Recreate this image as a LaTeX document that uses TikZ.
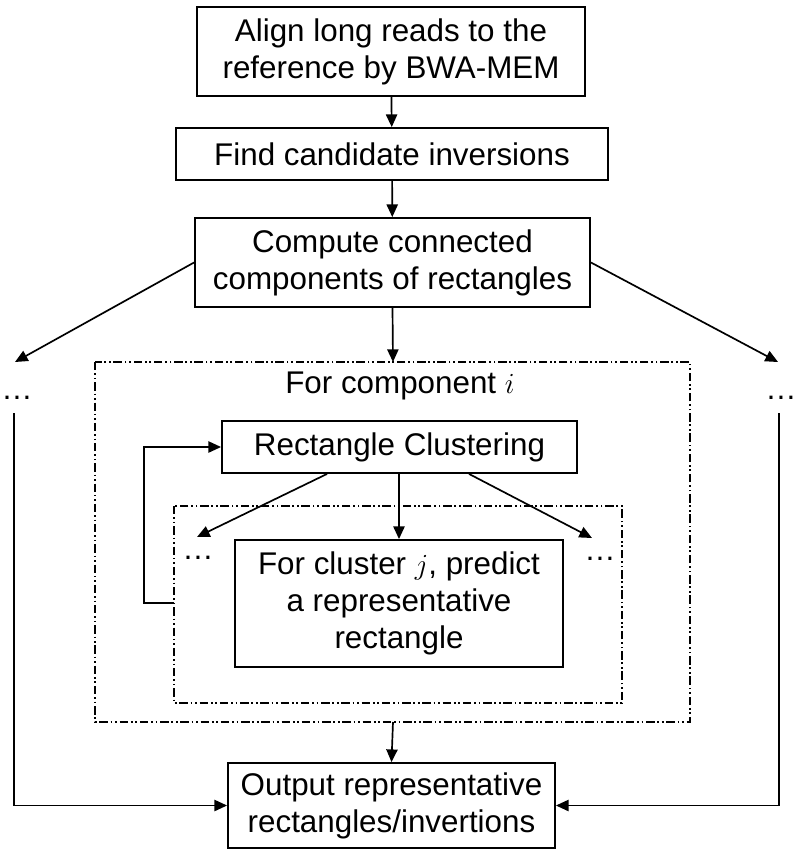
\documentclass[tikz,border=0pt]{standalone}
\usepackage{fontspec}
\setmainfont{Liberation Sans}
\usetikzlibrary{arrows.meta}
\tikzset{
  box/.style={draw,line width=1.3pt,align=center,inner sep=2pt},
  dashdot/.style={line width=1.2pt,dash pattern=on 6pt off 2pt on 1.2pt off 2pt on 1.2pt off 2pt},
}
\begin{document}
\begin{tikzpicture}[x=0.025cm,y=-0.025cm,line width=1.2pt,>={Triangle[length=9pt,width=8pt]},
  font=\fontsize{22.3}{26.3}\selectfont]
  \useasboundingbox (0,0) rectangle (800,858);
  % main chain
  \node[box,minimum width=9.7cm,minimum height=2.225cm] (align) at (391,51.5) {Align long reads to the\\reference by BWA-MEM};
  \node[box,minimum width=10.8cm,minimum height=1.3cm] (find) at (392,154) {Find candidate inversions};
  \node[box,minimum width=9.875cm,minimum height=2.225cm] (conn) at (392.5,262.5) {Compute connected\\components of rectangles};
  \node[box,minimum width=8.175cm,minimum height=2.125cm] (out) at (391.5,805.5) {Output representative\\rectangles/invertions};
  % component i
  \draw[dashdot] (95,362) rectangle (690,722);
  \coordinate (comptop) at (393,362);
  \coordinate (compbot) at (393,722);
  \node (comp) at (400,386) {For component $i$};
  \node[box,minimum width=8.875cm,minimum height=1.3cm] (clust) at (399.5,447) {Rectangle Clustering};
  % cluster j
  \draw[dashdot] (174,506) rectangle (622,703);
  \coordinate (loopout) at (174,603);
  \node[box,minimum width=8.2cm,minimum height=3.175cm] (pred) at (399,603.5) {For cluster $j$, predict\\a representative\\rectangle};
  \coordinate (ina) at (197,537);
  \coordinate (inb) at (592,538);
  \node[inner sep=0pt] (idotsl) at (198,558) {\dots};
  \node[inner sep=0pt] (idotsr) at (600,559) {\dots};
  % other components
  \coordinate (outa) at (15,362);
  \coordinate (outb) at (778,362);
  \node[inner sep=0pt] (dotsl) at (17,398) {\dots};
  \node[inner sep=0pt] (dotsr) at (781,398) {\dots};
  \coordinate (linel) at (14,413);
  \coordinate (liner) at (779,413);
  % arrows
  \draw[->] (align) -- (find);
  \draw[->] (find) -- (conn);
  \draw[->] (conn.south) -- (comptop);
  \draw[->] (conn.west) -- (outa);
  \draw[->] (conn.east) -- (outb);
  \draw[->] (compbot) -- (out.north);
  \draw[->] (linel) |- (out.west);
  \draw[->] (liner) |- (out.east);
  \draw[->] (clust.south-|pred.north) -- (pred.north);
  \draw[->] (clust.south west)++(106,0) -- (ina);
  \draw[->] (clust.south west)++(248,0) -- (inb);
  \draw[->] (loopout) -| (144,447) -- (clust.west);
\end{tikzpicture}
\end{document}
